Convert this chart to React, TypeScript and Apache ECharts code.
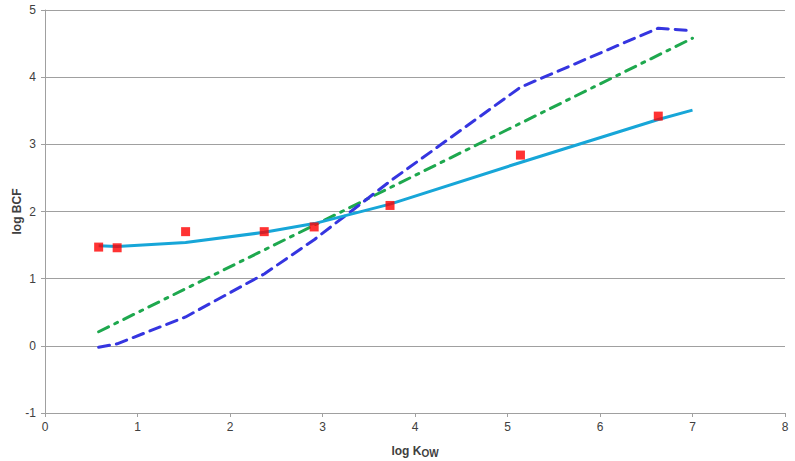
import React, { useEffect, useRef } from "react";
import * as echarts from "echarts";

// Measured data (red squares)
const obsLogKow = [0.58, 0.78, 1.52, 2.37, 2.91, 3.73, 5.14, 6.63];
const obsLogBcf = [1.47, 1.46, 1.70, 1.70, 1.77, 2.09, 2.84, 3.42];

// Model curves share these x values
const modelLogKow = [0.58, 0.78, 1.52, 2.37, 2.91, 3.73, 5.14, 6.63, 7.0];
const solidBcf = [1.49, 1.48, 1.54, 1.69, 1.82, 2.11, 2.73, 3.37, 3.51];
const dashedBcf = [-0.02, 0.03, 0.43, 1.07, 1.58, 2.45, 3.85, 4.73, 4.69];

// Dash-dot straight line
const dashDotLogKow = [0.58, 7.0];
const dashDotBcf = [0.21, 4.58];

const xTicks = [0, 1, 2, 3, 4, 5, 6, 7, 8];
const yTicks = [-1, 0, 1, 2, 3, 4, 5];

const zip = (xs: number[], ys: number[]) => xs.map((x, i) => [x, ys[i]]);

export default function App() {
  const ref = useRef<HTMLDivElement>(null);
  useEffect(() => {
    if (!ref.current) return;
    const chart = echarts.init(ref.current, null, { renderer: "svg" });
    const font = "Liberation Sans, Arial, sans-serif";
    chart.setOption({
      animation: false,
      backgroundColor: "#ffffff",
      grid: { left: 45, right: 10, top: 10, bottom: 48, containLabel: false, outerBoundsMode: "none" },
      xAxis: {
        type: "value",
        min: xTicks[0],
        max: xTicks[xTicks.length - 1],
        interval: 1,
        name: "{a|log K}{b|OW}",
        nameLocation: "middle",
        nameGap: 30,
        nameMoveOverlap: false,
        nameTextStyle: {
          rich: {
            a: { fontFamily: font, fontSize: 12, fontWeight: "bold", color: "#404040" },
            b: { fontFamily: font, fontSize: 10, fontWeight: "bold", color: "#404040", padding: [5, 0, 0, 0] },
          },
        },
        axisLine: { onZero: false, lineStyle: { color: "#a0a0a0", width: 1 } },
        axisTick: { show: true, inside: false, length: 4, lineStyle: { color: "#a0a0a0" } },
        axisLabel: { fontFamily: font, fontSize: 12, color: "#404040", margin: 8 },
        splitLine: { show: false },
      },
      yAxis: {
        type: "value",
        min: yTicks[0],
        max: yTicks[yTicks.length - 1],
        interval: 1,
        name: "log BCF",
        nameLocation: "middle",
        nameGap: 22,
        nameRotate: 90,
        nameMoveOverlap: false,
        nameTextStyle: { fontFamily: font, fontSize: 12, fontWeight: "bold", color: "#404040" },
        axisLine: { show: true, onZero: false, lineStyle: { color: "#a0a0a0", width: 1 } },
        axisTick: { show: true, inside: false, length: 4, lineStyle: { color: "#a0a0a0" } },
        axisLabel: { fontFamily: font, fontSize: 12, color: "#404040", margin: 9 },
        splitLine: { show: true, lineStyle: { color: "#a0a0a0", width: 1 } },
      },
      series: [
        {
          type: "line",
          data: zip(dashDotLogKow, dashDotBcf),
          showSymbol: false,
          symbol: "none",
          lineStyle: { color: "#1ea84e", width: 3, type: [11, 7, 3, 7], cap: "round" },
          z: 2,
        },
        {
          type: "line",
          data: zip(modelLogKow, dashedBcf),
          showSymbol: false,
          symbol: "none",
          lineStyle: { color: "#3535e0", width: 3, type: [11, 7], cap: "round" },
          z: 3,
        },
        {
          type: "line",
          data: zip(modelLogKow, solidBcf),
          showSymbol: false,
          symbol: "none",
          lineStyle: { color: "#17a6d8", width: 3 },
          z: 4,
        },
        {
          type: "scatter",
          data: zip(obsLogKow, obsLogBcf),
          symbol: "rect",
          symbolSize: 9,
          itemStyle: { color: "#ff0000" },
          z: 5,
        },
      ],
    });
    return () => chart.dispose();
  }, []);
  return <div ref={ref} style={{ width: 795, height: 461, position: "absolute", left: 0, top: 0 }} />;
}
